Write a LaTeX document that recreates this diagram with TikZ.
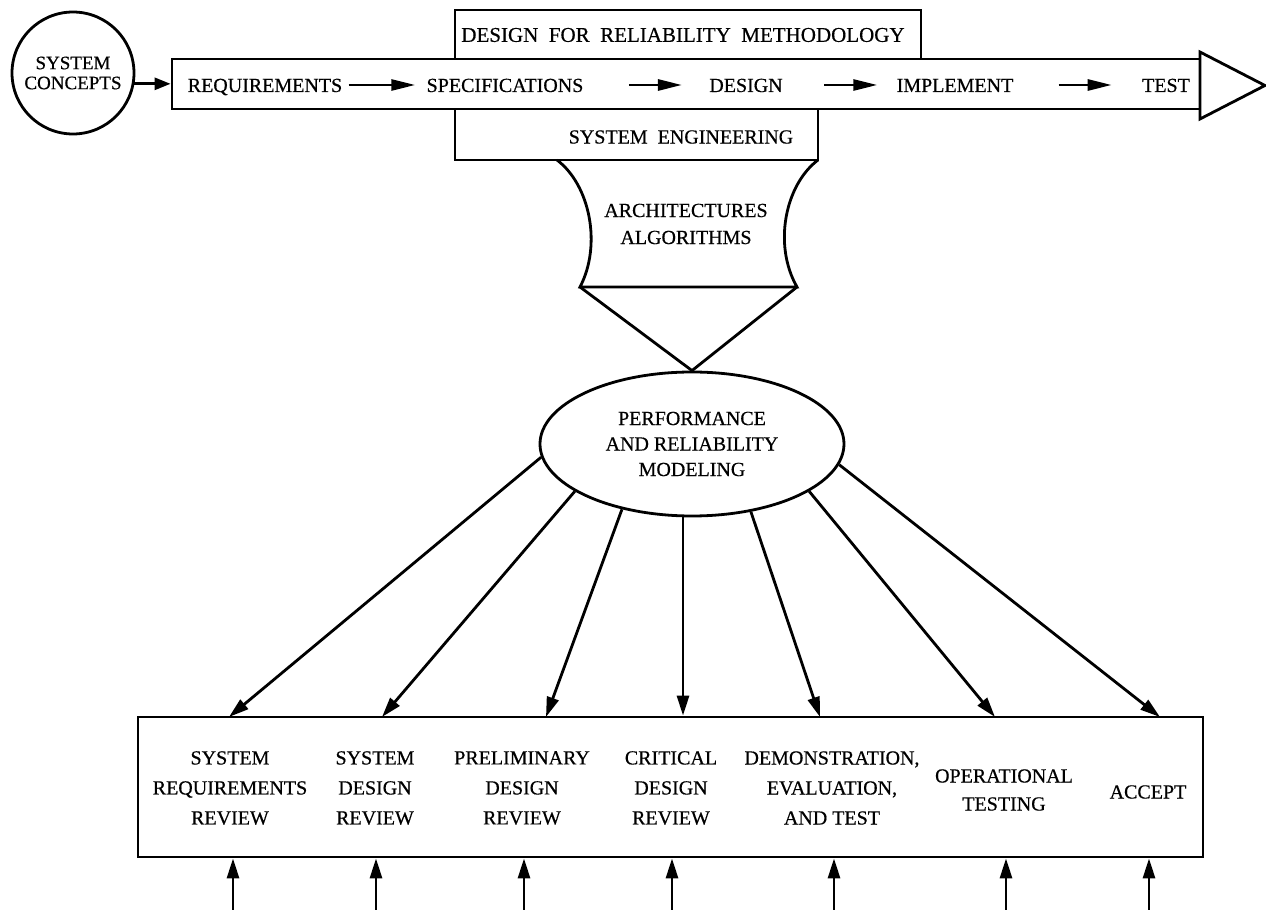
\documentclass[tikz,border=0pt]{standalone}
\usepackage{fontspec}
\setmainfont{Liberation Serif}[FakeBold=0.5]
\usetikzlibrary{arrows.meta,shapes.geometric}
\begin{document}
\begin{tikzpicture}[x=0.5pt,y=-0.5pt,
  line width=1.4pt,
  every node/.style={font=\fontsize{10}{15}\selectfont, inner sep=0pt},
  box/.style={draw, line width=1.4pt},
  bandtxt/.style={text height=7pt, text depth=0pt},
  col/.style={align=center, font=\fontsize{10}{15}\selectfont},
  arr/.style={-{Triangle[length=10pt,width=6pt]}, line width=1.4pt},
  flow/.style={-{Triangle[length=12pt,width=5.5pt]}, line width=1.4pt},
]
\useasboundingbox (0,0) rectangle (1266,914);

% starting concept
\node[draw, circle, minimum size=61pt, align=center,
      font=\fontsize{9.5}{10}\selectfont] (concepts) at (73,73) {SYSTEM\\CONCEPTS};

% life-cycle band with its arrow head
\node[box, minimum width=514pt, minimum height=25pt] (band) at (686,84) {};
\draw[line join=miter, fill=white] (1200,52) -- (1265,85.5) -- (1200,119) -- cycle;

% methodology and engineering boxes above and below the band
\node[box, minimum width=233pt, minimum height=24.5pt] (dfr) at (688,34.5) {};
\node[font=\fontsize{10.5}{12}\selectfont] (dfrtxt) at (683,35)
      {DESIGN\ \ FOR\ \ RELIABILITY\ \ METHODOLOGY};
\node[box, minimum width=181.5pt, minimum height=25.5pt] (seng) at (636.5,134.5) {};
\node (sengtxt) at (681,137) {SYSTEM\ \ ENGINEERING};

\draw[-{Triangle[length=8pt,width=6pt]}] (concepts.-10) -- (concepts.-10 -| band.west);

% phases along the band
\node[bandtxt] (req)  at (265,85) {REQUIREMENTS};
\node[bandtxt] (spec) at (505,85) {SPECIFICATIONS};
\node[bandtxt] (des)  at (746,85) {DESIGN};
\node[bandtxt] (impl) at (955,85) {IMPLEMENT};
\node[bandtxt] (test) at (1166,85) {TEST};
\draw[flow, shorten <=2.5pt, shorten >=5pt] (req.east) -- (spec.west);
\draw[flow, shorten <=22pt, shorten >=13pt] (spec.east) -- (des.west);
\draw[flow, shorten <=20pt, shorten >=9pt] (des.east) -- (impl.west);
\draw[flow, shorten <=22pt, shorten >=14.5pt] (impl.east) -- (test.west);

% funnel and triangle leading to the modeling ellipse
\draw (557,160) .. controls (590,185) and (602,245) .. (580,287)
      -- (797,287) .. controls (773,245) and (785,185) .. (818,160);
\node[align=center, font=\fontsize{10}{13.5}\selectfont] (arch) at (686,224)
      {ARCHITECTURES\\ALGORITHMS};

\node[draw, ellipse, minimum width=152pt, minimum height=72pt, align=center,
      font=\fontsize{10}{12.75}\selectfont] (ell) at (692,444)
      {PERFORMANCE\\AND RELIABILITY\\MODELING};
\draw[line join=miter] (580,287) -- (ell.north) -- (797,287);

% review box
\node[box, minimum width=532.5pt, minimum height=70pt] (rev) at (670.5,787) {};
\node[col] (srr) at (230,788) {SYSTEM\\REQUIREMENTS\\REVIEW};
\node[col] (sdr) at (375,788) {SYSTEM\\DESIGN\\REVIEW};
\node[col] (pdr) at (522,788) {PRELIMINARY\\DESIGN\\REVIEW};
\node[col] (cdr) at (671,788) {CRITICAL\\DESIGN\\REVIEW};
\node[col] (det) at (832,788) {DEMONSTRATION,\\EVALUATION,\\AND TEST};
\node[col, font=\fontsize{10}{14}\selectfont] (opt) at (1004,790) {OPERATIONAL\\TESTING};
\node[col] (acc) at (1148,792) {ACCEPT};

% arrows from the model to each review
\coordinate (t1) at (229,717);
\coordinate (t2) at (382,717);
\coordinate (t3) at (546,717);
\coordinate (t5) at (820,717);
\coordinate (t6) at (995,717);
\coordinate (t7) at (1160,717);
\draw[arr] (ell.185) -- (t1);
\draw[arr] (ell.202) -- (t2);
\draw[arr] (ell.223) -- (t3);
\draw[arr] (ell.263) -- (ell.263 |- rev.north);
\draw[arr] (ell.311) -- (t5);
\draw[arr] (ell.338) -- (t6);
\draw[arr] (ell.352) -- (t7);

% inputs from below
\coordinate (b1) at (233,910);
\coordinate (b2) at (376,910);
\coordinate (b3) at (524,910);
\coordinate (b4) at (672,910);
\coordinate (b5) at (834,910);
\coordinate (b6) at (1006,910);
\coordinate (b7) at (1149,910);
\foreach \b in {b1,b2,b3,b4,b5,b6,b7}
  \draw[arr] (\b) -- (\b |- rev.south);
\end{tikzpicture}
\end{document}
